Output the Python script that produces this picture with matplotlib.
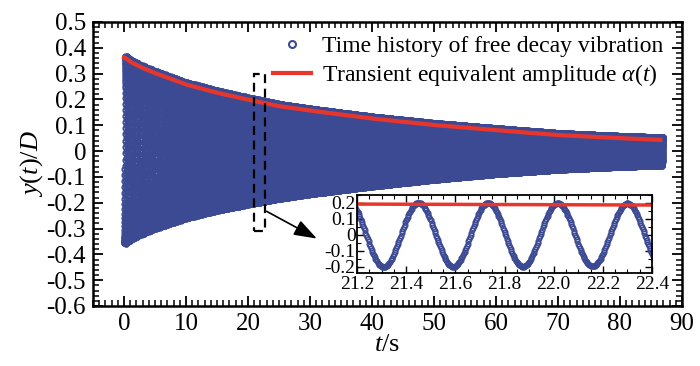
import numpy as np
import matplotlib
matplotlib.use("Agg")
import matplotlib.pyplot as plt
from matplotlib.lines import Line2D
from matplotlib.patches import Rectangle
from matplotlib.ticker import MultipleLocator, FuncFormatter

# ---- values ----
t_env = [0, 0.3, 1, 3, 5, 10, 15, 20, 25, 30, 40, 50, 60, 70, 80, 87]
alpha_env = [0.362, 0.360, 0.346, 0.322, 0.302, 0.258, 0.226, 0.199, 0.174, 0.157, 0.126, 0.101, 0.081, 0.062, 0.050, 0.043]
upper_env = [0.355, 0.372, 0.356, 0.332, 0.312, 0.268, 0.236, 0.209, 0.184, 0.166, 0.135, 0.110, 0.090, 0.071, 0.060, 0.054]
lower_env = [-0.355, -0.360, -0.346, -0.322, -0.302, -0.262, -0.232, -0.208, -0.186, -0.168, -0.138, -0.112, -0.090, -0.073, -0.062, -0.056]
freq_hz = 3.53          # from inset: peaks at 21.45, 21.73, 22.01, 22.30 s
peak_time = 21.45
fs = 320.0
t_end = 87.0
main_xticks = [0, 10, 20, 30, 40, 50, 60, 70, 80, 90]
main_yticks = [0.5, 0.4, 0.3, 0.2, 0.1, 0, -0.1, -0.2, -0.3, -0.4, -0.5, -0.6]
inset_xticks = [21.2, 21.4, 21.6, 21.8, 22.0, 22.2, 22.4]
inset_yticks = [0.2, 0.1, 0, -0.1, -0.2]
zoom_box = (21.0, 22.7, -0.31, 0.30)

blue = '#3C4A94'
red = '#E8362C'

plt.rcParams['font.family'] = ['Liberation Serif', 'DejaVu Serif']
plt.rcParams['mathtext.fontset'] = 'custom'
plt.rcParams['mathtext.rm'] = 'Liberation Serif'
plt.rcParams['mathtext.it'] = 'Liberation Serif:italic'
plt.rcParams['axes.unicode_minus'] = False

# signal reconstructed from the read envelope and frequency
t = np.arange(0, t_end, 1.0 / fs)
up = np.interp(t, t_env, upper_env)
lo = np.interp(t, t_env, lower_env)
y = (up + lo) / 2 + (up - lo) / 2 * np.cos(2 * np.pi * freq_hz * (t - peak_time))
ta = np.linspace(0, 86.5, 400)
alpha = np.interp(ta, t_env, alpha_env)

fig = plt.figure(figsize=(7.0, 3.66), dpi=100)
ax = fig.add_axes([93 / 700, 60 / 366, 589 / 700, 284 / 366])

ax.plot(t, y, 'o', mfc='none', mec=blue, ms=3.4, mew=1.1, ls='none', zorder=2)
ax.plot(ta, alpha, '-', color=red, lw=3, zorder=3)

ax.set_xlim(-5, 90)
ax.set_ylim(-0.6, 0.5)
ax.set_xticks(main_xticks)
ax.set_yticks(main_yticks)
ax.xaxis.set_minor_locator(MultipleLocator(1))
ax.yaxis.set_minor_locator(MultipleLocator(0.02))
ax.yaxis.set_major_formatter(FuncFormatter(lambda v, p: f"{v:g}"))
ax.tick_params(which='both', direction='in', top=True, right=True, labelsize=18, pad=5)
ax.tick_params(which='major', length=7, width=1.3)
ax.tick_params(which='minor', length=4, width=1.1)
for s in ax.spines.values():
    s.set_linewidth(1.8)

ax.set_xlabel(r'$t$/s', fontsize=19, labelpad=-1)
ax.set_ylabel(r'$y$($t$)/$D$', fontsize=19, labelpad=1)

handles = [Line2D([], [], marker='o', mfc='none', mec=blue, ms=5, mew=1.5, ls='none'),
           Line2D([], [], color=red, lw=3)]
labels = ['Time history of free decay vibration',
          r'Transient equivalent amplitude $\alpha$($t$)']
ax.legend(handles, labels, loc='upper right', bbox_to_anchor=(0.985, 0.985),
          frameon=False, fontsize=17, handlelength=1.6, handletextpad=0.5,
          labelspacing=0.2, borderaxespad=0.0)

x0, x1, y0, y1 = zoom_box
ax.add_patch(Rectangle((x0, y0), x1 - x0, y1 - y0, fill=False, ec='black',
                       lw=1.6, ls=(0, (4, 2.5)), zorder=4))
ax.annotate('', xy=(31.5, -0.344), xytext=(x1 - 0.1, -0.228),
            arrowprops=dict(arrowstyle='-|>,head_length=1.0,head_width=0.35',
                            color='black', lw=1.2, mutation_scale=14), zorder=4)

# inset
ins = fig.add_axes([357 / 700, 93 / 366, 295 / 700, 78 / 366])
m = (t >= 21.15) & (t <= 22.45)
ins.plot(t[m], y[m], 'o', mfc='none', mec=blue, ms=3.4, mew=1.0, ls='none')
mi = np.linspace(21.2, 22.4, 50)
ins.plot(mi, np.interp(mi, t_env, alpha_env), color=red, lw=2.5)
ins.set_xlim(21.2, 22.4)
ins.set_ylim(-0.24, 0.25)
ins.set_xticks(inset_xticks)
ins.set_yticks(inset_yticks)
ins.xaxis.set_minor_locator(MultipleLocator(0.05))
ins.yaxis.set_minor_locator(MultipleLocator(0.05))
ins.xaxis.set_major_formatter(FuncFormatter(lambda v, p: f"{v:.1f}"))
ins.yaxis.set_major_formatter(FuncFormatter(lambda v, p: f"{v:g}"))
ins.tick_params(which='both', direction='in', top=True, right=True, labelsize=14, pad=2)
ins.tick_params(axis='y', which='both', pad=1)
ins.tick_params(which='major', length=5, width=1.0)
ins.tick_params(which='minor', length=3, width=0.8)
for s in ins.spines.values():
    s.set_linewidth(1.3)

fig.savefig('out.png', dpi=100)
